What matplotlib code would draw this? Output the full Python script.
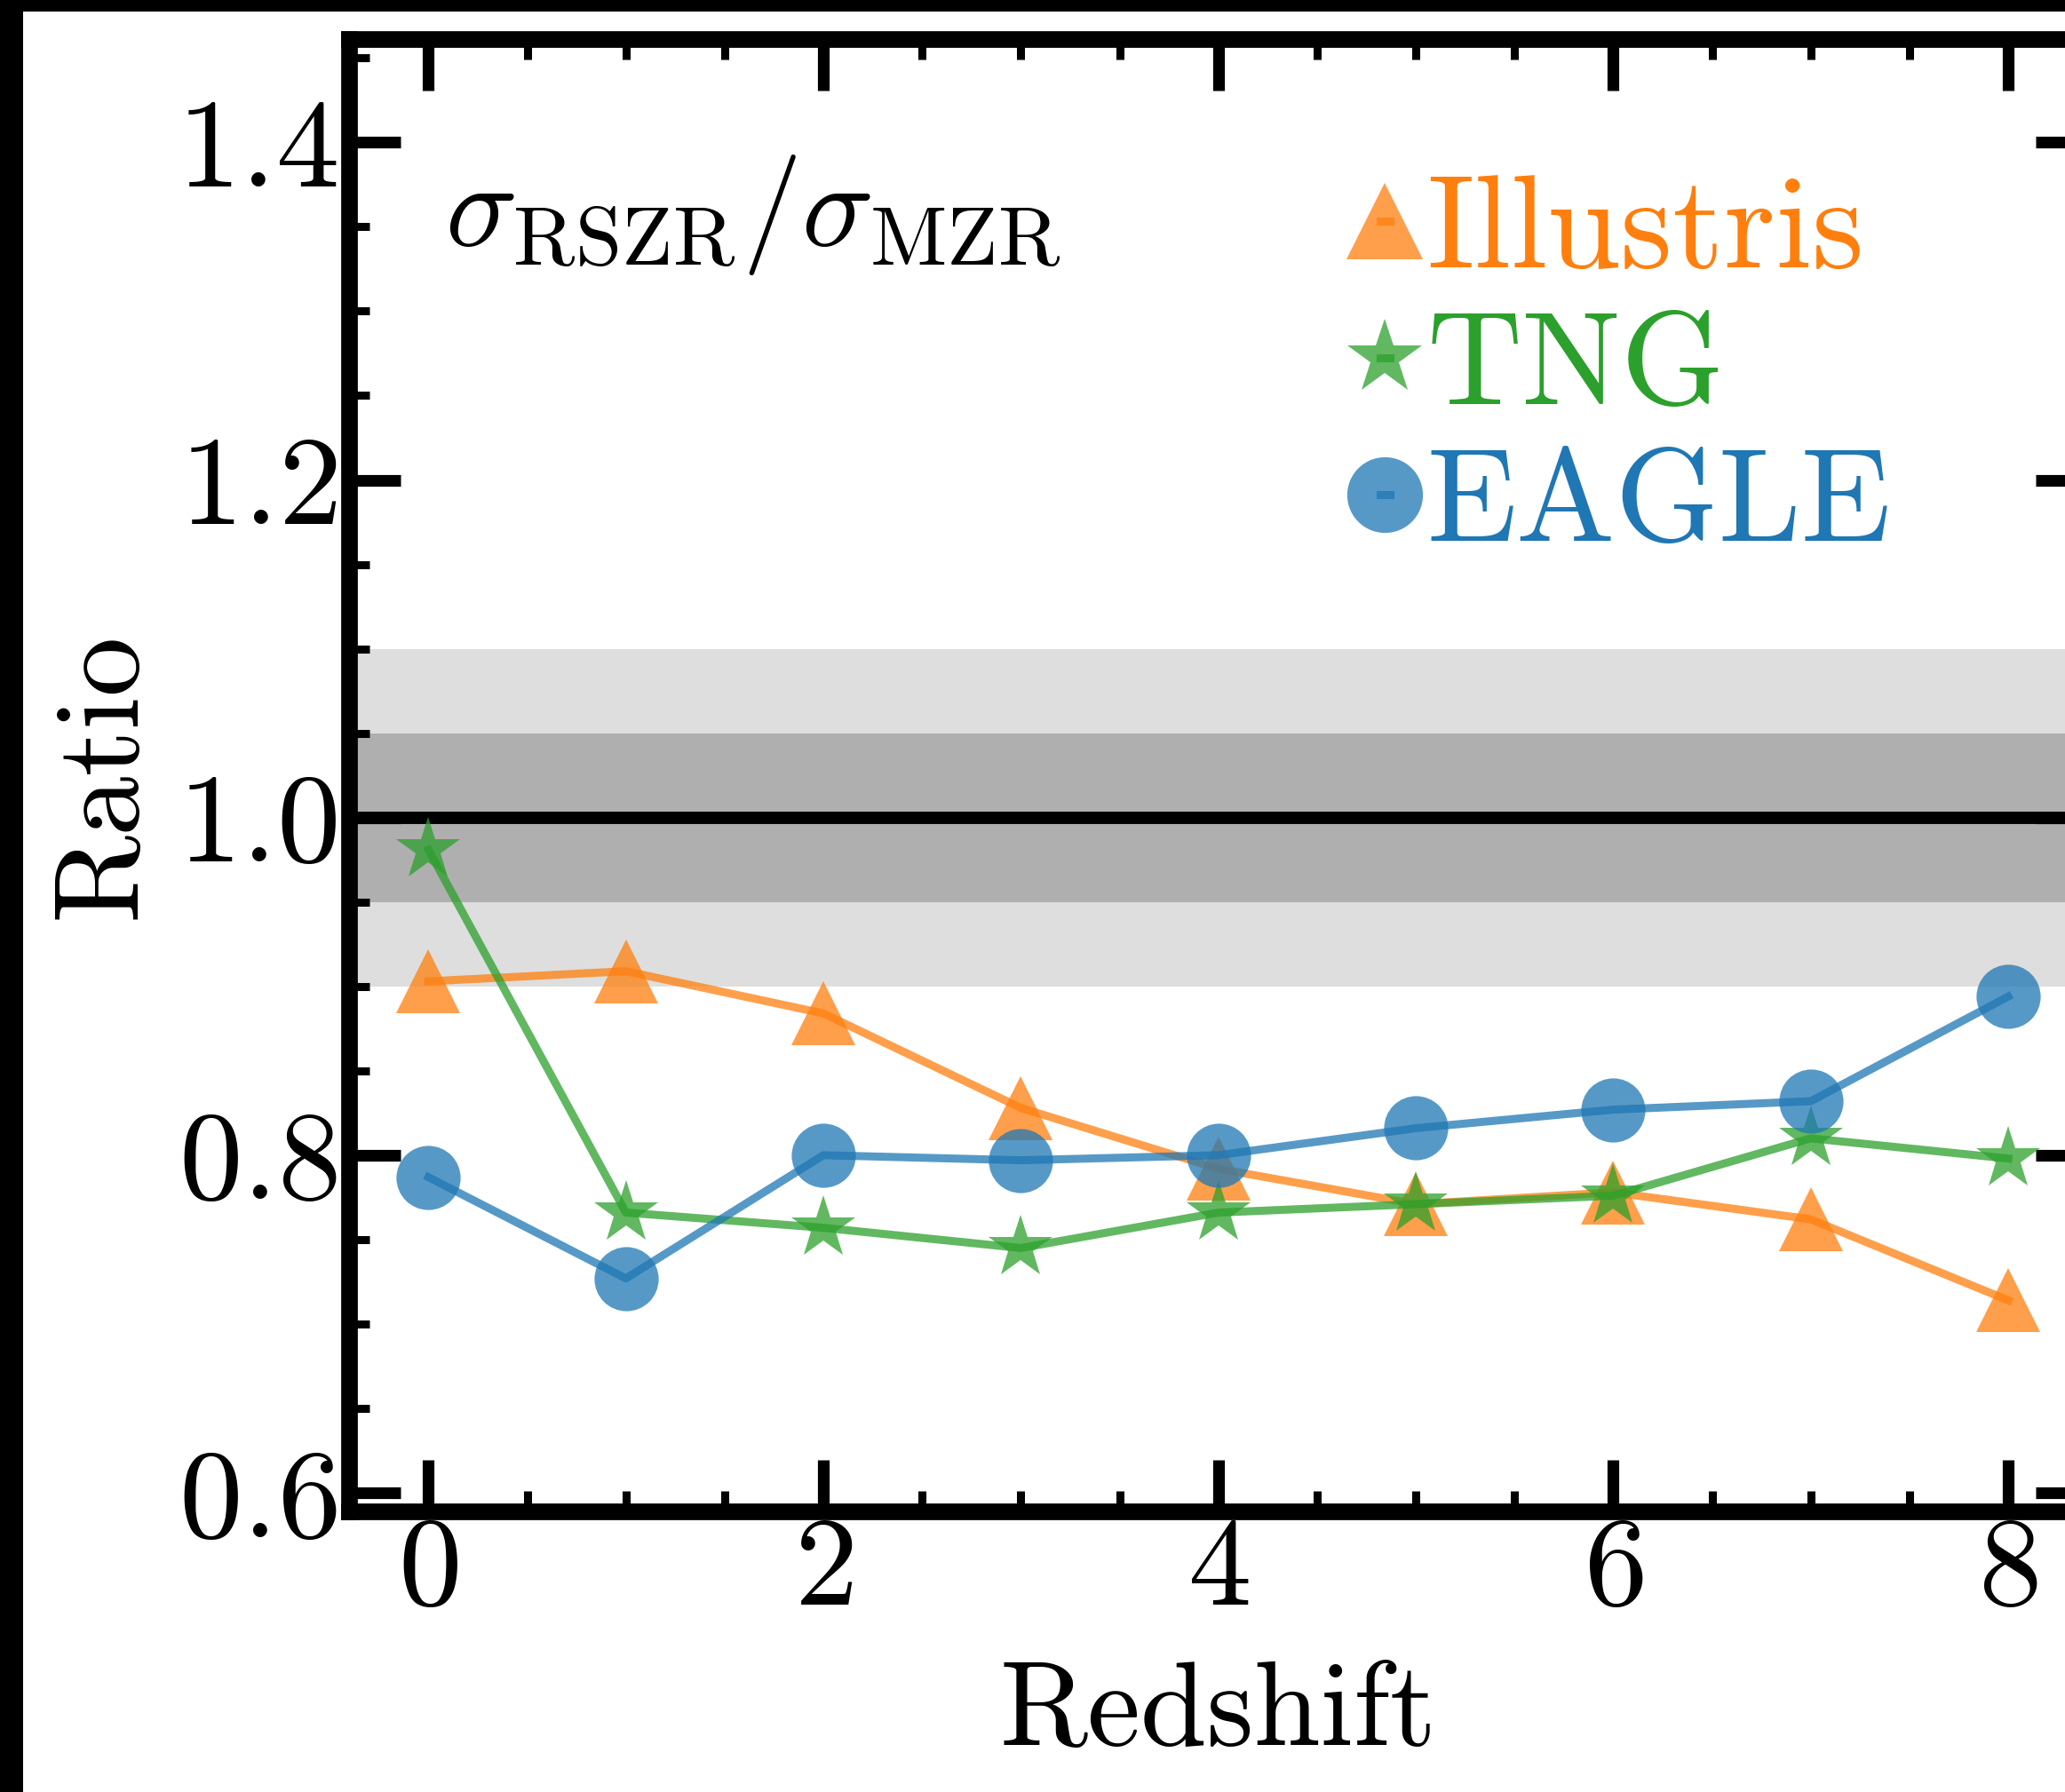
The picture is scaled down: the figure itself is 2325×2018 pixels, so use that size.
import matplotlib
matplotlib.use("Agg")
import matplotlib.pyplot as plt
from matplotlib.patches import Rectangle
from matplotlib.ticker import MultipleLocator

# LaTeX-like look without usetex
plt.rcParams["font.family"] = "cmr10"
plt.rcParams["mathtext.fontset"] = "cm"
plt.rcParams["axes.formatter.use_mathtext"] = True

# scatter ratio per simulation vs redshift
redshift = [0, 1, 2, 3, 4, 5, 6, 7, 8]
illustris = [0.903, 0.909, 0.884, 0.828, 0.792, 0.771, 0.778, 0.762, 0.714]
tng = [0.981, 0.766, 0.757, 0.745, 0.766, 0.771, 0.776, 0.810, 0.798]
eagle = [0.787, 0.727, 0.800, 0.797, 0.800, 0.816, 0.827, 0.832, 0.894]

sims = ["Illustris", "TNG", "EAGLE"]
colors = ["C1", "C2", "C0"]
markers = ["^", "*", "o"]

fig = plt.figure(figsize=(23.25, 20.18), dpi=100)
ax = fig.add_axes([0.1692, 0.1566, 0.8416, 0.8214])

# shaded +-5% and +-10% bands around unity
ax.axhspan(0.9, 1.1, color="#dedede", lw=0, zorder=0)
ax.axhspan(0.95, 1.05, color="#afafaf", lw=0, zorder=0.5)
ax.axhline(1.0, color="k", lw=10, zorder=1)

for name, vals, c, m in zip(sims, [illustris, tng, eagle], colors, markers):
    ms = 54 if m == "*" else 52
    ax.plot(redshift, vals, color=c, marker=m, markersize=ms, lw=6.5,
            alpha=0.75, markeredgewidth=0, label=name, zorder=2)

ax.set_xlim(-0.4, 8.4)
ax.set_ylim(0.589, 1.461)

ax.xaxis.set_major_locator(MultipleLocator(2))
ax.xaxis.set_minor_locator(MultipleLocator(0.5))
ax.yaxis.set_major_locator(MultipleLocator(0.2))
ax.yaxis.set_minor_locator(MultipleLocator(0.05))

ax.tick_params(which="both", direction="in", top=True, right=True)
ax.tick_params(which="major", length=42, width=9.5, labelsize=103)
ax.tick_params(which="minor", length=16.5, width=6.5)
ax.tick_params(axis="x", which="major", pad=4)
ax.tick_params(axis="y", which="major", pad=10)
for sp in ax.spines.values():
    sp.set_linewidth(13.5)

ax.set_xlabel("Redshift", fontsize=97, va="baseline")
ax.xaxis.set_label_coords(0.5, -0.1587)
ax.set_ylabel("Ratio", fontsize=97, va="baseline")
ax.yaxis.set_label_coords(-0.1235, 0.5)

ax.text(0.055, 0.860, r"$\sigma_{\rm RSZR}/\sigma_{\rm MZR}$", fontsize=97,
        transform=ax.transAxes, ha="left", va="baseline")

leg = ax.legend(loc="upper left", bbox_to_anchor=(0.593, 0.908), frameon=False,
                fontsize=107, markerscale=1.18, handlelength=0.075,
                handletextpad=0.28, labelspacing=0.14, borderpad=0,
                borderaxespad=0, labelcolor="linecolor")

# frame edges along top and left
fig.add_artist(Rectangle((0, 1 - 13 / 2018), 1, 13 / 2018, transform=fig.transFigure,
                         color="k", lw=0))
fig.add_artist(Rectangle((0, 0), 26 / 2325, 1, transform=fig.transFigure,
                         color="k", lw=0))

fig.savefig("out.png", dpi=100)
